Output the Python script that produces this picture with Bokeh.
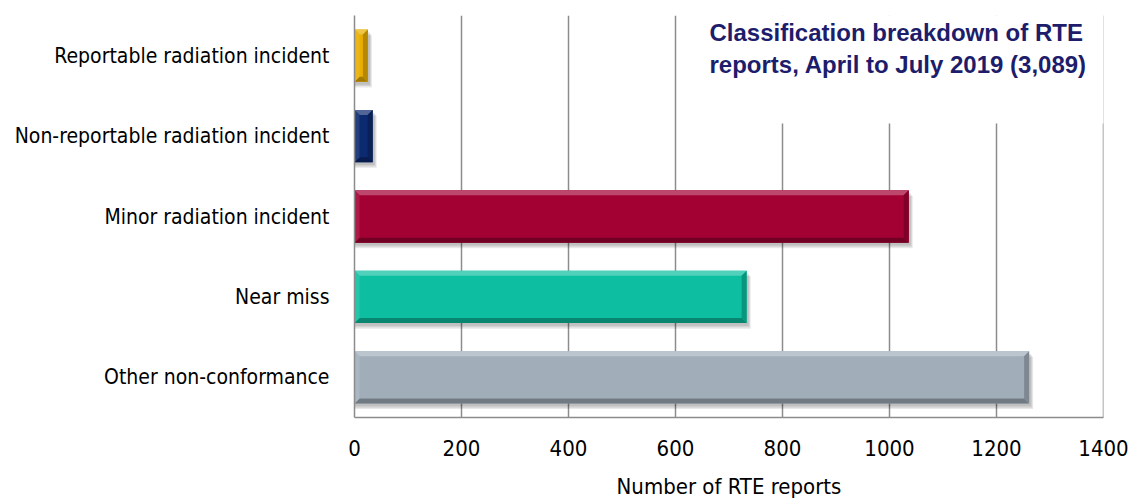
from bokeh.plotting import figure
from bokeh.models import Range1d, FixedTicker, Span
from bokeh.core.properties import value
from bokeh.embed import file_html
from bokeh.resources import INLINE

# Data (bottom to top)
categories = [
    "Other non-conformance",
    "Near miss",
    "Minor radiation incident",
    "Non-reportable radiation incident",
    "Reportable radiation incident",
]
counts = [1261, 733, 1036, 34, 25]
bar_colors = ["#A1AEBA", "#0DBFA0", "#A30034", "#0B2A6F", "#E8AE00"]
x_ticks = [0, 200, 400, 600, 800, 1000, 1200, 1400]
title_lines = ["Classification breakdown of RTE", "reports, April to July 2019 (3,089)"]
x_label = "Number of RTE reports"

# Layout
W, H = 1132, 503
LEFT, RIGHT, TOP, BOTTOM = 354, 29, 15, 86
FW, FH = W - LEFT - RIGHT, H - TOP - BOTTOM
XMAX = 1400
Y0, Y1 = 0.5, len(categories) + 0.5
ux = XMAX / FW            # data units per pixel, x
uy = (Y1 - Y0) / FH       # data units per pixel, y

GRID = "#8c8c8c"
LABEL_FONT = "DejaVu Sans Condensed"


def mix(hex_color, target, t):
    c = [int(hex_color[i:i + 2], 16) for i in (1, 3, 5)]
    m = [round(a + (b - a) * t) for a, b in zip(c, target)]
    return "#%02x%02x%02x" % tuple(m)


p = figure(
    width=W, height=H,
    x_range=Range1d(0, XMAX), y_range=Range1d(Y0, Y1),
    output_backend="svg", toolbar_location=None,
    min_border_left=LEFT, min_border_right=RIGHT,
    min_border_top=TOP, min_border_bottom=BOTTOM,
)
p.outline_line_color = None
p.background_fill_color = "white"
p.border_fill_color = "white"

# Grid
p.ygrid.grid_line_color = None
p.xgrid.ticker = FixedTicker(ticks=x_ticks)
p.xgrid.grid_line_color = GRID
p.xgrid.grid_line_width = 1.5
p.add_layout(Span(location=XMAX, dimension="height", line_color=GRID, line_width=1.5, level="underlay"))

# Axes
p.xaxis.ticker = FixedTicker(ticks=x_ticks)
p.xaxis.axis_line_color = GRID
p.xaxis.axis_line_width = 1.5
p.xaxis.major_tick_line_color = None
p.xaxis.minor_tick_line_color = None
p.xaxis.major_label_text_font = LABEL_FONT
p.xaxis.major_label_text_font_size = "22px"
p.xaxis.major_label_text_color = "black"
p.xaxis.major_label_standoff = 16
p.xaxis.axis_label = x_label
p.xaxis.axis_label_text_font = LABEL_FONT
p.xaxis.axis_label_text_font_size = "22px"
p.xaxis.axis_label_text_font_style = "normal"
p.xaxis.axis_label_text_color = "black"
p.xaxis.axis_label_standoff = 15

ypos = list(range(1, len(categories) + 1))
p.yaxis.ticker = FixedTicker(ticks=ypos)
p.yaxis.major_label_overrides = {y: c for y, c in zip(ypos, categories)}
p.yaxis.axis_line_color = GRID
p.yaxis.axis_line_width = 1.5
p.yaxis.major_tick_line_color = None
p.yaxis.minor_tick_line_color = None
p.yaxis.major_label_text_font = LABEL_FONT
p.yaxis.major_label_text_font_size = "21px"
p.yaxis.major_label_text_color = "black"
p.yaxis.major_label_standoff = 19

# Bars with bevel and soft shadow
half = 0.325
bev_x, bev_y = 5 * ux, 5 * uy

for k in range(3):
    off = k + 2
    p.quad(left=[0] * len(counts), right=[c + off * ux for c in counts],
           top=[y + half - off * 1.4 * uy for y in ypos],
           bottom=[y - half - off * 1.4 * uy for y in ypos],
           fill_color="black", fill_alpha=0.09, line_color=None)

p.quad(left=[0] * len(counts), right=counts,
       top=[y + half for y in ypos], bottom=[y - half for y in ypos],
       fill_color=bar_colors, line_color=None)

xs, ys, fills = [], [], []
for v, y, col in zip(counts, ypos, bar_colors):
    t, b = y + half, y - half
    bx = min(bev_x, v / 2.5)
    xs.append([0, v, v - bx, bx]); ys.append([t, t, t - bev_y, t - bev_y]); fills.append(mix(col, (255, 255, 255), 0.28))
    xs.append([0, v, v - bx, bx]); ys.append([b, b, b + bev_y, b + bev_y]); fills.append(mix(col, (0, 0, 0), 0.30))
    xs.append([0, bx, bx, 0]); ys.append([b, b + bev_y, t - bev_y, t]); fills.append(mix(col, (255, 255, 255), 0.10))
    xs.append([v, v - bx, v - bx, v]); ys.append([b, b + bev_y, t - bev_y, t]); fills.append(mix(col, (0, 0, 0), 0.22))

p.patches(xs=xs, ys=ys, fill_color=fills, line_color=None)

# Title block on a white panel over the grid
box_left = 640
box_bottom = Y1 - (123 - TOP) * uy
p.quad(left=[box_left], right=[XMAX + 20 * ux], top=[Y1 + 1], bottom=[box_bottom],
       fill_color="white", line_color=None)

tx = (709 - LEFT) * ux
ty = [Y1 - (32 - TOP) * uy, Y1 - (64 - TOP) * uy]
p.text(x=[tx, tx], y=ty, text=title_lines,
       text_font=value("Liberation Sans"), text_font_style="bold",
       text_font_size="24px", text_color="#1d1d6b",
       text_baseline="alphabetic", text_align="left")

open("out.html", "w").write(file_html(p, INLINE))
